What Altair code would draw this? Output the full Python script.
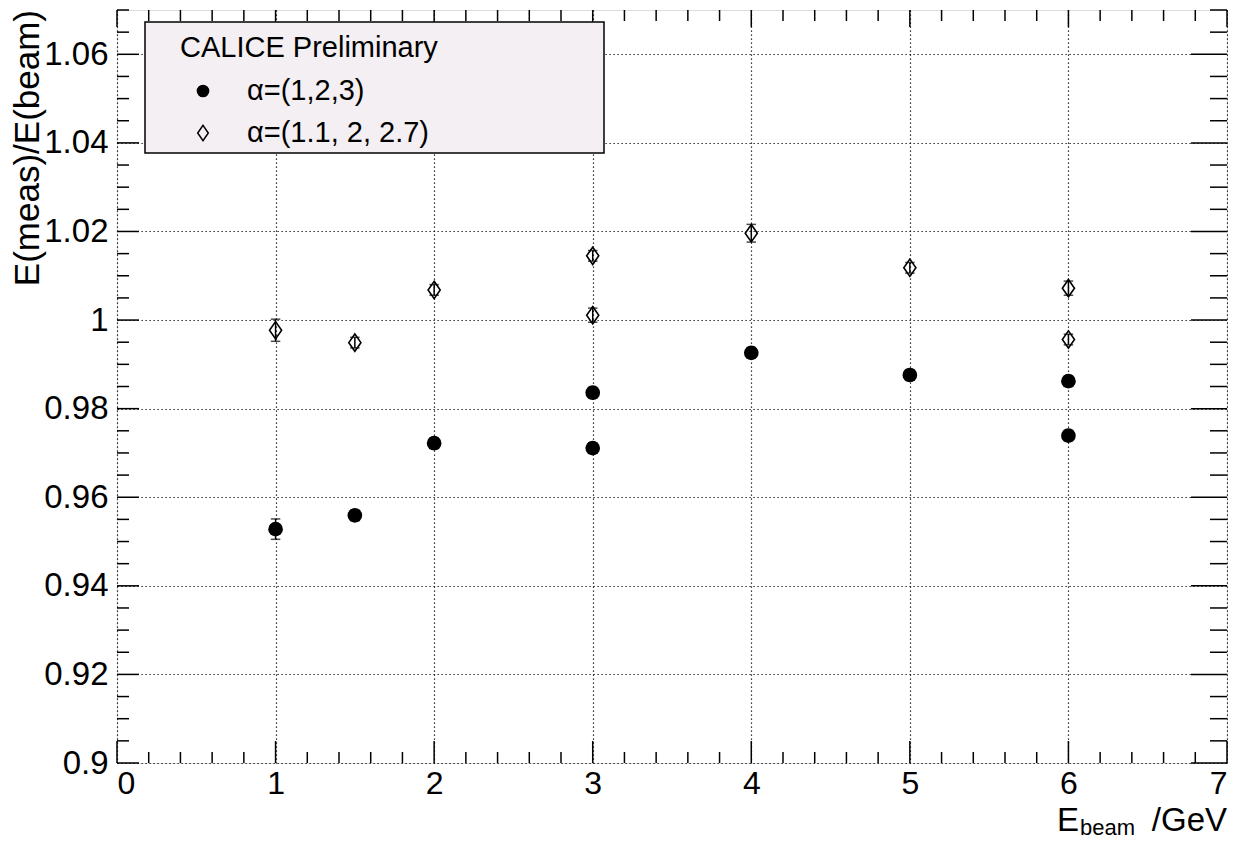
import altair as alt
import pandas as pd
import numpy as np

# ---- data ----
e_beam = [1, 1.5, 2, 3, 3, 4, 5, 6, 6]
ratio_a = [0.9528, 0.9559, 0.9722, 0.9836, 0.9711, 0.9926, 0.9876, 0.9862, 0.9739]
err_a = [0.0023, 0.0012, 0.0012, 0.0012, 0.0012, 0.0012, 0.0012, 0.0012, 0.0012]
ratio_b = [0.9977, 0.9949, 1.0068, 1.0145, 1.0011, 1.0196, 1.0118, 1.0072, 0.9956]
err_b = [0.0025, 0.0012, 0.0012, 0.0012, 0.0016, 0.0020, 0.0012, 0.0016, 0.0012]

legend_header = "CALICE Preliminary"
legend_labels = ["α=(1,2,3)", "α=(1.1, 2, 2.7)"]
y_title = "E(meas)/E(beam)"
x_title_parts = ["E", "beam", "/GeV"]

x_major = [0, 1, 2, 3, 4, 5, 6, 7]
y_major = [0.90, 0.92, 0.94, 0.96, 0.98, 1.00, 1.02, 1.04, 1.06]
x_minor = [round(v, 2) for v in np.arange(0, 7.001, 0.2) if abs(v - round(v)) > 1e-6]
y_minor = [round(v, 3) for v in np.arange(0.9, 1.0701, 0.005)
           if min(abs(v - m) for m in y_major) > 1e-6]

W, H = 1110, 753
FONT = "Liberation Sans"

xs = alt.Scale(domain=[0, 7], nice=False, zero=False)
ys = alt.Scale(domain=[0.9, 1.07], nice=False, zero=False)

df_a = pd.DataFrame({"x": e_beam, "y": ratio_a,
                     "lo": [v - e for v, e in zip(ratio_a, err_a)],
                     "hi": [v + e for v, e in zip(ratio_a, err_a)]})
df_b = pd.DataFrame({"x": e_beam, "y": ratio_b,
                     "lo": [v - e for v, e in zip(ratio_b, err_b)],
                     "hi": [v + e for v, e in zip(ratio_b, err_b)]})

X = alt.X("x:Q", scale=xs, axis=alt.Axis(values=x_major, format="~g", title=None,
                                          grid=True, gridDash=[1.2, 2.8], gridColor="#000",
                                          gridWidth=1.2, gridOpacity=1,
                                          ticks=False, domain=False, labelFontSize=32,
                                          labelFont=FONT, labelColor="#000", labelPadding=5))
Y = alt.Y("y:Q", scale=ys, axis=alt.Axis(values=y_major, format="~g", title=None,
                                          grid=True, gridDash=[1.2, 2.8], gridColor="#000",
                                          gridWidth=1.2, gridOpacity=1,
                                          ticks=False, domain=False, labelFontSize=33,
                                          labelFont=FONT, labelColor="#000", labelPadding=9))

cap = "M-1,0L1,0"
diamond = "M0,-1L0.7,0L0,1L-0.7,0Z"

# error bars
err_layers = []
for df in (df_a, df_b):
    err_layers.append(alt.Chart(df).mark_rule(color="#000", strokeWidth=1.5).encode(
        x=alt.X("x:Q", scale=xs), y=alt.Y("lo:Q", scale=ys), y2="hi:Q"))
    for f in ("lo", "hi"):
        err_layers.append(alt.Chart(df).mark_point(shape=cap, size=90, color="#000",
                                                   strokeWidth=1.5, filled=False).encode(
            x=alt.X("x:Q", scale=xs), y=alt.Y(f + ":Q", scale=ys)))

pts_a = alt.Chart(df_a).mark_circle(size=215, color="#000", opacity=1).encode(x=X, y=Y)
pts_b = alt.Chart(df_b).mark_point(shape=diamond, size=300, color="#000", filled=False,
                                   strokeWidth=1.6, opacity=1).encode(
    x=alt.X("x:Q", scale=xs), y=alt.Y("y:Q", scale=ys))

# frame ticks (ROOT style, inside the frame)
def xticks(vals, y0, y1):
    return alt.Chart(pd.DataFrame({"v": vals})).mark_rule(color="#000", strokeWidth=1.5).encode(
        x=alt.X("v:Q", scale=xs), y=alt.value(y0), y2=alt.value(y1))

def yticks(vals, x0, x1):
    return alt.Chart(pd.DataFrame({"v": vals})).mark_rule(color="#000", strokeWidth=1.5).encode(
        y=alt.Y("v:Q", scale=ys), x=alt.value(x0), x2=alt.value(x1))

tick_layers = [
    xticks(x_major, H, H - 22), xticks(x_minor, H, H - 11),
    xticks(x_major, 0, 17), xticks(x_minor, 0, 11),
    yticks(y_major, 0, 22), yticks(y_minor, 0, 12),
    yticks(y_major, W, W - 36), yticks(y_minor, W, W - 17),
]

one = pd.DataFrame({"d": [0]})

# legend box
leg_box = alt.Chart(one).mark_rect(fill="#f4eff2", stroke="#000", strokeWidth=1.5).encode(
    x=alt.value(28), x2=alt.value(487), y=alt.value(12), y2=alt.value(143))
leg_head = alt.Chart(one).mark_text(text=legend_header, font=FONT, fontSize=29,
                                    align="left", baseline="middle", color="#000").encode(
    x=alt.value(63), y=alt.value(38))
leg_t1 = alt.Chart(one).mark_text(text=legend_labels[0], font=FONT, fontSize=29,
                                  align="left", baseline="middle", color="#000").encode(
    x=alt.value(130), y=alt.value(81))
leg_t2 = alt.Chart(one).mark_text(text=legend_labels[1], font=FONT, fontSize=29,
                                  align="left", baseline="middle", color="#000").encode(
    x=alt.value(130), y=alt.value(123))
leg_m1 = alt.Chart(one).mark_circle(size=160, color="#000", opacity=1).encode(
    x=alt.value(86), y=alt.value(81))
leg_m2 = alt.Chart(one).mark_point(shape=diamond, size=230, color="#000", filled=False,
                                   strokeWidth=1.5, opacity=1).encode(
    x=alt.value(86), y=alt.value(123))

# axis titles
ytitle = alt.Chart(one).mark_text(text=y_title, font=FONT, fontSize=35, angle=270,
                                  align="right", baseline="middle", color="#000").encode(
    x=alt.value(-89), y=alt.value(0))
xt_E = alt.Chart(one).mark_text(text=x_title_parts[0], font=FONT, fontSize=33,
                                align="left", baseline="alphabetic", color="#000").encode(
    x=alt.value(940), y=alt.value(821))
xt_b = alt.Chart(one).mark_text(text=x_title_parts[1], font=FONT, fontSize=22,
                                align="left", baseline="alphabetic", color="#000").encode(
    x=alt.value(963), y=alt.value(825))
xt_g = alt.Chart(one).mark_text(text=x_title_parts[2], font=FONT, fontSize=33,
                                align="right", baseline="alphabetic", color="#000").encode(
    x=alt.value(1110), y=alt.value(821))

chart = alt.layer(
    pts_a, *err_layers, pts_b, *tick_layers,
    leg_box, leg_head, leg_t1, leg_t2, leg_m1, leg_m2,
    ytitle, xt_E, xt_b, xt_g,
).properties(
    width=W, height=H,
    autosize=alt.AutoSizeParams(type="none"),
    padding={"left": 109, "top": 2, "right": 1, "bottom": 77},
).configure_view(
    stroke="#000", strokeWidth=2, fill="#fff"
).configure(background="#fff")

chart.save("out.html", embed_options={"renderer": "svg", "actions": False})
